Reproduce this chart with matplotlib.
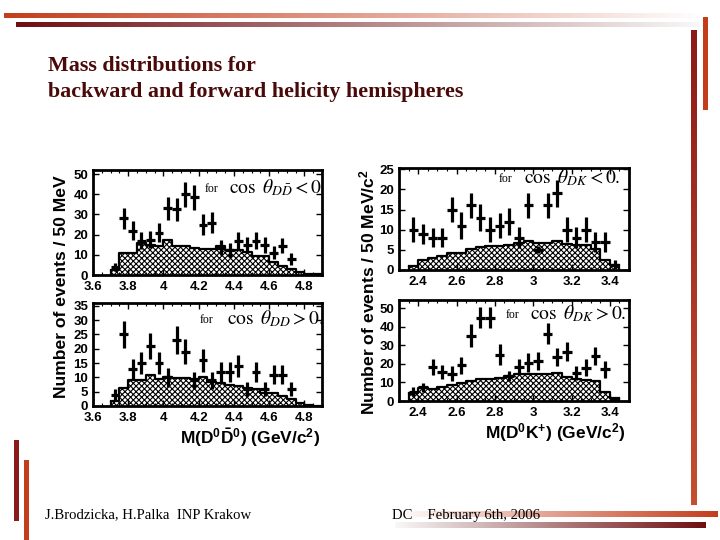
import numpy as np
import matplotlib
matplotlib.use("Agg")
import matplotlib.pyplot as plt
from matplotlib.colors import to_rgb
from matplotlib.ticker import MultipleLocator

# ---- data ----
# D0 anti-D0 mass, bin centres (GeV/c^2)
dd_centers = [3.725, 3.775, 3.825, 3.875, 3.925, 3.975, 4.025, 4.075, 4.125,
              4.175, 4.225, 4.275, 4.325, 4.375, 4.425, 4.475, 4.525, 4.575,
              4.625, 4.675, 4.725]
# backward (cos < 0) data and errors
dd_bwd = [4, 28, 22, 17, 17.5, 21, 33, 32.5, 40, 38.5, 25, 26, 13.5, 12.5,
          17, 15, 17, 15, 11, 14.5, 8]
dd_bwd_err = [2, 5.3, 4.7, 4.1, 4.2, 4.6, 5.7, 5.7, 6.3, 6.2, 5, 5.1, 3.7,
              3.5, 4.1, 3.9, 4.1, 3.9, 3.3, 3.8, 2.8]
# forward (cos > 0) data and errors
dd_fwd = [4, 25, 13, 15, 21, 15, 10, 23, 19, 9, 16, 9, 12, 12, 14, 6, 12, 6,
          11, 11, 6]
dd_fwd_err = [2, 4.8, 3.6, 3.9, 4.6, 3.9, 3.2, 4.8, 4.4, 3, 4, 3, 3.5, 3.5,
              3.7, 2.4, 3.5, 2.4, 3.3, 3.3, 2.4]
# hatched histograms, left bin edges
dd_mc_edges = [3.70, 3.75, 3.80, 3.85, 3.90, 3.95, 4.00, 4.05, 4.10, 4.15,
               4.20, 4.25, 4.30, 4.35, 4.40, 4.45, 4.50, 4.55, 4.60, 4.65,
               4.70, 4.75, 4.80, 4.85]
dd_bwd_mc = [2.5, 10.7, 10.7, 16, 15, 14.6, 17.4, 14.4, 14.4, 13.3, 13, 13,
             14.3, 12.6, 12.6, 11.2, 9.2, 9.2, 6.6, 4.4, 3.2, 1.5, 0.7, 0.3]
dd_fwd_mc = [1.8, 6.4, 9, 9, 11, 9.3, 10.1, 9.7, 9.7, 9.3, 10.3, 8.5, 7.9,
             7.2, 7.0, 6.2, 5.8, 4.6, 4.4, 3.5, 2.3, 1.0, 0.5, 0]

# D0 K+ mass
dk_centers = [2.375, 2.425, 2.475, 2.525, 2.575, 2.625, 2.675, 2.725, 2.775,
              2.825, 2.875, 2.925, 2.975, 3.025, 3.075, 3.125, 3.175, 3.225,
              3.275, 3.325, 3.375, 3.425]
dk_bwd = [10, 9, 8, 8, 15, 11, 16, 13, 10, 11, 12, 8, 16, 5, 16, 19, 10, 8,
          10, 7, 7, 1.3]
dk_bwd_err = [3.1, 2.5, 2.3, 2.3, 3.2, 3.3, 3.1, 3.4, 3.1, 3.1, 3.4, 2.6,
              3, 0.9, 3, 3.3, 3.1, 2.6, 3.1, 2.5, 2.5, 1.1]
dk_fwd = [5, 7.3, 18.3, 15.8, 14.7, 19.4, 35.3, 45, 45, 25, 13.4, 18.3, 20.7,
          21.6, 36.3, 23.8, 26.7, 15.2, 17.9, 24.4, 17, 1.1]
dk_fwd_err = [2.3, 2.5, 4.1, 3.7, 4.1, 4.6, 6, 5.5, 5.5, 5.5, 2.7, 4.1, 5, 5,
              5.7, 4.9, 5, 3.7, 4.6, 4.8, 4.6, 1.2]
dk_mc_edges = [2.35, 2.40, 2.45, 2.50, 2.55, 2.60, 2.65, 2.70, 2.75, 2.80,
               2.85, 2.90, 2.95, 3.00, 3.05, 3.10, 3.15, 3.20, 3.25, 3.30,
               3.35, 3.40]
dk_bwd_mc = [1.1, 2.5, 3, 3.4, 4.2, 4.2, 5.3, 5.7, 5.9, 5.9, 6.2, 6.8, 7.2,
             6.8, 6.8, 7.2, 6.4, 6.2, 6.2, 5.3, 2.5, 1.3]
dk_fwd_mc = [4.2, 7, 6.6, 7.3, 8.8, 9.7, 11, 12, 12, 12.5, 13.4, 14.3, 14.3,
             14.7, 14.3, 15.2, 12.8, 12, 11.5, 11, 5.1, 1.8]

BIN = 0.05
W, H = 720, 540

plt.rcParams['hatch.linewidth'] = 0.8
# sans maths for the axis titles, the in-panel cos labels ask for stix
plt.rcParams['mathtext.fontset'] = 'custom'
plt.rcParams['mathtext.rm'] = 'Liberation Sans'
plt.rcParams['mathtext.bf'] = 'Liberation Sans:bold'
plt.rcParams['mathtext.it'] = 'Liberation Sans:italic'

fig = plt.figure(figsize=(7.2, 5.4), dpi=100)
fig.patch.set_facecolor('white')


def px_axes(x0, y0, x1, y1):
    """axes from pixel box (top-left origin)"""
    return fig.add_axes([x0 / W, 1 - y1 / H, (x1 - x0) / W, (y1 - y0) / H])


# ---- slide decoration (gradient bars) ----
bg = fig.add_axes([0, 0, 1, 1], zorder=-5)
bg.axis('off')


def grad_bar(x0, x1, y0, y1, c0, c1, vertical=False):
    c0, c1 = np.array(to_rgb(c0)), np.array(to_rgb(c1))
    t = np.linspace(0, 1, 256)[:, None]
    cols = c0 * (1 - t) + c1 * t
    img = cols[:, None, :] if vertical else cols[None, :, :]
    bg.imshow(img, extent=(x0, x1, y1, y0), aspect='auto', interpolation='bilinear')


grad_bar(4, 705, 13, 18, '#c43d1c', '#ffffff')
grad_bar(16, 700, 22, 27, '#6e0f12', '#f8f8f8')
grad_bar(703, 708, 17, 110, '#c43d1c', '#c43d1c', vertical=True)
grad_bar(691, 697, 30, 505, '#8b1a1a', '#c45030', vertical=True)
grad_bar(14, 19, 440, 521, '#8b1a1a', '#8b1a1a', vertical=True)
grad_bar(24, 29, 460, 540, '#c43d1c', '#c43d1c', vertical=True)
grad_bar(395, 718, 511, 517, '#ffffff', '#c43d1c')
grad_bar(395, 706, 522, 528, '#f8f8f8', '#6e0f12')
bg.set_xlim(0, W)
bg.set_ylim(H, 0)

# ---- title and footer ----
title_kw = dict(family='Liberation Serif', weight='bold', fontsize=15.8,
                color='#4a0a0a', va='center', ha='left')
fig.text(48 / W, 1 - 66 / H, "Mass distributions for", **title_kw)
fig.text(48 / W, 1 - 92 / H, "backward and forward helicity hemispheres", **title_kw)
fig.text(45 / W, 1 - 515 / H, "J.Brodzicka, H.Palka  INP Krakow",
         family='Liberation Serif', fontsize=10.6, va='center')
fig.text(392 / W, 1 - 515 / H, "DC    February 6th, 2006",
         family='Liberation Serif', fontsize=10.6, va='center')


def draw_panel(ax, centers, vals, errs, edges, mc, xlim, ylim, xticks, xlabels, yticks):
    e = list(edges) + [edges[-1] + BIN]
    m = list(mc) + [mc[-1]]
    ax.fill_between(e, 0, m, step='post', facecolor='white', edgecolor='black',
                    hatch='xxxxxx', linewidth=0, zorder=1)
    ax.step(e, m, where='post', color='black', lw=1.6, zorder=2)
    ax.vlines([e[0], e[-1]], 0, [m[0], m[-1]], color='black', lw=1.6, zorder=2)
    ax.errorbar(centers, vals, yerr=errs, xerr=BIN / 2, fmt='none',
                ecolor='black', elinewidth=2.3, capsize=0, zorder=3)
    ax.set_xlim(*xlim)
    ax.set_ylim(*ylim)
    ax.set_xticks(xticks)
    ax.set_xticklabels(xlabels)
    ax.set_yticks(yticks)
    ax.xaxis.set_minor_locator(MultipleLocator(0.05))
    ax.tick_params(which='both', direction='in', top=True, right=True,
                   labelsize=9.5)
    ax.tick_params(axis='x', pad=4)
    ax.tick_params(axis='y', pad=3.5)
    ax.tick_params(which='major', length=4, width=1)
    ax.tick_params(which='minor', length=2, width=0.8)
    for lab in ax.get_xticklabels() + ax.get_yticklabels():
        lab.set_family('Liberation Sans')
        lab.set_weight('bold')
    for s in ax.spines.values():
        s.set_linewidth(2)


dd_ticks = [3.6, 3.8, 4.0, 4.2, 4.4, 4.6, 4.8]
dd_labels = ['3.6', '3.8', '4', '4.2', '4.4', '4.6', '4.8']
dk_ticks = [2.4, 2.6, 2.8, 3.0, 3.2, 3.4]
dk_labels = ['2.4', '2.6', '2.8', '3', '3.2', '3.4']

ax1 = px_axes(93, 170, 322, 275)
draw_panel(ax1, dd_centers, dd_bwd, dd_bwd_err, dd_mc_edges, dd_bwd_mc,
           (3.6, 4.9), (0, 52), dd_ticks, dd_labels, [0, 10, 20, 30, 40, 50])

ax2 = px_axes(93, 303, 322, 406)
draw_panel(ax2, dd_centers, dd_fwd, dd_fwd_err, dd_mc_edges, dd_fwd_mc,
           (3.6, 4.9), (0, 36), dd_ticks, dd_labels, [0, 5, 10, 15, 20, 25, 30, 35])

ax3 = px_axes(399, 168, 629, 270)
draw_panel(ax3, dk_centers, dk_bwd, dk_bwd_err, dk_mc_edges, dk_bwd_mc,
           (2.3, 3.5), (0, 25.3), dk_ticks, dk_labels, [0, 5, 10, 15, 20, 25])

ax4 = px_axes(399, 300, 629, 401)
draw_panel(ax4, dk_centers, dk_fwd, dk_fwd_err, dk_mc_edges, dk_fwd_mc,
           (2.3, 3.5), (0, 54.5), dk_ticks, dk_labels, [0, 10, 20, 30, 40, 50])

# ---- in-panel labels ----
notes = [(205, 189, 229, r'$\cos\ \theta_{D\bar{D}} < 0$'),
         (200, 320, 227, r'$\cos\ \theta_{DD} > 0.$'),
         (499, 179, 524, r'$\cos\ \theta_{DK} < 0.$'),
         (506, 315, 530, r'$\cos\ \theta_{DK} > 0.$')]
for fx, fy, cx, txt in notes:
    fig.text(fx / W, 1 - fy / H, 'for', family='Liberation Serif', fontsize=8.5,
             va='center', ha='left')
    fig.text(cx / W, 1 - (fy - 1) / H, txt, fontsize=14, va='center', ha='left',
             math_fontfamily='stix')

# ---- axis titles ----
lab_kw = dict(family='Liberation Sans', weight='bold', fontsize=12.6,
              rotation=90, va='center', ha='center')
fig.text(62 / W, 1 - 287 / H, 'Number of events / 50 MeV', **lab_kw)
fig.text(367 / W, 1 - 292 / H, r'Number of events / 50 MeV/c$^{\mathbf{2}}$', **lab_kw)
xlab_kw = dict(family='Liberation Sans', weight='bold', fontsize=12.5,
               ha='center', va='center')
fig.text(250 / W, 1 - 438 / H, r'M(D$^{\mathbf{0}}\mathbf{\bar{D}}^{\mathbf{0}}$) (GeV/c$^{\mathbf{2}}$)',
         **xlab_kw)
fig.text(555 / W, 1 - 433 / H, r'M(D$^{\mathbf{0}}$K$^{\mathbf{+}}$) (GeV/c$^{\mathbf{2}}$)',
         **xlab_kw)

fig.savefig('out.png', dpi=100)
